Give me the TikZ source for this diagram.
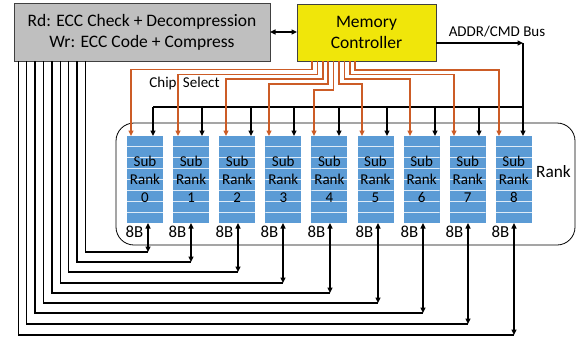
\documentclass[tikz,border=0pt]{standalone}
\usepackage{fontspec}
\setmainfont{Carlito}
\usetikzlibrary{arrows.meta}
\definecolor{subblue}{RGB}{91,155,213}
\definecolor{csorange}{RGB}{204,92,38}
\definecolor{boxgray}{RGB}{191,191,191}
\definecolor{mcyellow}{RGB}{240,230,10}
\definecolor{edgegray}{RGB}{64,64,64}
\tikzset{
  procbox/.style={draw=edgegray, line width=0.9pt, fill=boxgray, inner sep=0pt, outer sep=0pt, align=center, font=\fontsize{17.5}{21}\selectfont},
  mcbox/.style={draw=edgegray, line width=0.9pt, fill=mcyellow, inner sep=0pt, outer sep=0pt, align=center, font=\fontsize{17.5}{21}\selectfont},
  rankbox/.style={draw=black, line width=0.8pt, rounded corners=18pt, inner sep=0pt, outer sep=0pt},
  stripe/.style={draw=white!80!subblue, line width=0.9pt},
  subrank/.style={fill=subblue, minimum width=36pt, minimum height=87pt, inner sep=0pt, outer sep=0pt, align=center, font=\fontsize{15}{18}\selectfont,
    path picture={\foreach \k in {1,...,7}{\draw[stripe] ([yshift={-\k*10.875pt}]path picture bounding box.north west) -- ([yshift={-\k*10.875pt}]path picture bounding box.north east);}}},
  wire/.style={draw=black, line width=1.4pt},
  cswire/.style={draw=csorange, line width=1.5pt},
  lbl/.style={inner sep=0pt, outer sep=0pt},
  tip/.style={>={Triangle[length=5.5pt,width=5pt]}}
}
\begin{document}
\begin{tikzpicture}[x=1pt,y=-1pt,tip]
\useasboundingbox (0,0) rectangle (584,343);
% boxes
\node[procbox, minimum width=256pt, minimum height=58pt] (proc) at (142,32) {Rd: ECC Check + Decompression\\Wr: ECC Code + Compress};
\node[mcbox, minimum width=139pt, minimum height=57pt] (mc) at (366.5,32.5) {Memory\\Controller};
\node[rankbox, minimum width=459pt, minimum height=122pt] (rank) at (345.5,184) {};
\node[lbl, font=\fontsize{17.3}{20}\selectfont] (ranklbl) at (553.5,172) {Rank};
\foreach \i in {0,...,8}{
  \node[subrank] (s\i) at ({145+46.1*\i},179.5) {Sub\\Rank\\\i};
}
% proc <-> mc
\draw[wire,<->] (proc.east) -- (mc.west |- proc.east);
% ADDR/CMD bus
\node[lbl, font=\fontsize{15}{18}\selectfont] (addrlbl) at (497,32) {ADDR/CMD Bus};
\coordinate (ac) at (523,43);
\coordinate (busL) at (153,107);
\coordinate (busR) at (523,107);
\draw[wire,->] (mc.east |- ac) -- (ac);
\draw[wire,->] (ac) -- (s8.north -| ac);
\draw[wire] (busL) -- (busR);
\foreach \i/\bx in {0/153,1/202,2/251,3/294,4/339,5/387,6/435,7/479}{
  \draw[wire,->] (\bx,107) -- (s\i.north -| \bx,0);
}
% chip select
\node[lbl, font=\fontsize{15}{18}\selectfont] (cslbl) at (184.5,83.5) {Chip\hspace{3pt} Select};
\foreach \i/\ox/\hy/\tx in {0/312/69.5/131, 1/317.4/74.5/178, 2/322.8/79/226, 3/328.2/84/269, 4/333.6/90/314, 5/339/84/362, 6/344.4/79/410, 7/349.8/74.5/454, 8/355.2/70/499}{
  \draw[cswire,->] (mc.south -| \ox,0) |- (\tx,\hy) -- (s\i.north -| \tx,0);
}
% data wires
\foreach \i/\wx/\wy/\ax in {0/85.5/252/148, 1/77.1/262/191, 2/68.7/272/238, 3/60.3/283/283, 4/51.9/293/330, 5/43.5/303/378, 6/35.1/313/423, 7/26.7/324/468, 8/18.3/335/514}{
  \draw[wire] (proc.south -| \wx,0) |- (\ax,\wy) coordinate (w\i);
  \draw[wire,<->] (w\i) -- (s\i.south -| \ax,0);
  \node[lbl, font=\fontsize{16.8}{20}\selectfont] (b\i) at ({\ax-13.5},232) {8B};
}
\end{tikzpicture}
\end{document}
